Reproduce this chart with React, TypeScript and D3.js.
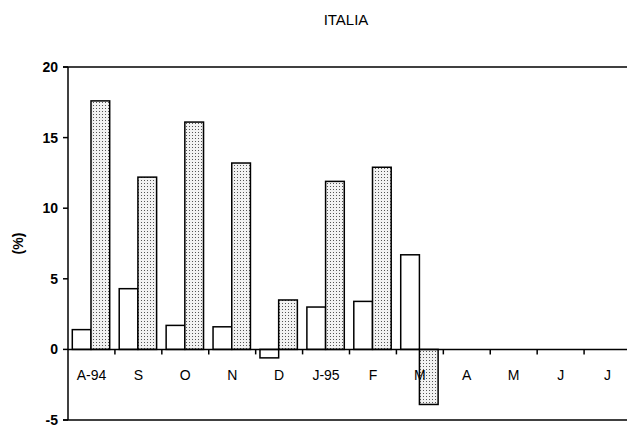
import React from "react";
import * as d3 from "d3";

const categories = ["A-94", "S", "O", "N", "D", "J-95", "F", "M", "A", "M ", "J", "J "];
const seriesWhite: (number | null)[] = [1.4, 4.3, 1.7, 1.6, -0.6, 3.0, 3.4, 6.7, null, null, null, null];
const seriesDotted: (number | null)[] = [17.6, 12.2, 16.1, 13.2, 3.5, 11.9, 12.9, -3.9, null, null, null, null];
const yTicks = [20, 15, 10, 5, 0, -5];
const labelTexts = ["A-94", "S", "O", "N", "D", "J-95", "F", "M", "A", "M", "J", "J"];

export default function App() {
  const W = 627, H = 428;
  const left = 68, right = 631, top = 67, bottom = 420;
  const x = d3.scaleBand<string>().domain(categories).range([left, right]).paddingInner(0).paddingOuter(0);
  const y = d3.scaleLinear().domain([-5, 20]).range([bottom, top]);
  const bw = 18.7;
  const y0 = y(0);
  const font = "'Liberation Sans', Arial, sans-serif";

  const bar = (v: number | null, xPos: number, fill: string, key: string) => {
    if (v === null) return null;
    const yTop = Math.min(y(v), y0);
    const h = Math.abs(y(v) - y0);
    return <rect key={key} x={xPos} y={yTop} width={bw} height={h} fill={fill} stroke="#000" strokeWidth={1.5} />;
  };

  return (
    <svg width={W} height={H} style={{ position: "absolute", left: 0, top: 0 }}>
      <defs>
        <pattern id="dots" width="3" height="3" patternUnits="userSpaceOnUse">
          <rect width="3" height="3" fill="#f2f2f2" />
          <rect x="0" y="0" width="1" height="1" fill="#555" />
        </pattern>
      </defs>
      <rect width={W} height={H} fill="#fff" />
      <text x={346} y={25} textAnchor="middle" fontFamily={font} fontSize={15}>ITALIA</text>
      <text transform={`translate(23,${y(7.5)}) rotate(-90)`} textAnchor="middle" fontFamily={font} fontSize={14} fontWeight="bold">(%)</text>
      <line x1={left - 5} x2={W} y1={top} y2={top} stroke="#000" strokeWidth={1.5} />
      <line x1={left - 5} x2={W} y1={bottom} y2={bottom} stroke="#000" strokeWidth={1.5} />
      <line x1={left} x2={left} y1={top} y2={bottom} stroke="#000" strokeWidth={1.5} />
      {yTicks.map(t => (
        <g key={t}>
          <line x1={left - 5} x2={left} y1={y(t)} y2={y(t)} stroke="#000" strokeWidth={1.5} />
          <text x={left - 10} y={y(t) + 5} textAnchor="end" fontFamily={font} fontSize={14} fontWeight="bold">{t}</text>
        </g>
      ))}
      {categories.map((c, i) => {
        const gx = x(c)!;
        const start = gx + 4.3;
        return (
          <g key={c}>
            {bar(seriesWhite[i], start, "#fff", "w" + i)}
            {bar(seriesDotted[i], start + bw, "url(#dots)", "d" + i)}
          </g>
        );
      })}
      <line x1={left} x2={W} y1={y0} y2={y0} stroke="#000" strokeWidth={1.5} />
      {categories.map((c, i) => (
        <g key={"t" + c}>
          {i > 0 && <line x1={x(c)!} x2={x(c)!} y1={y0} y2={y0 + 5} stroke="#000" strokeWidth={1.5} />}
          <text x={x(c)! + x.bandwidth() / 2} y={y0 + 31} textAnchor="middle" fontFamily={font} fontSize={14}>{labelTexts[i]}</text>
        </g>
      ))}
    </svg>
  );
}
